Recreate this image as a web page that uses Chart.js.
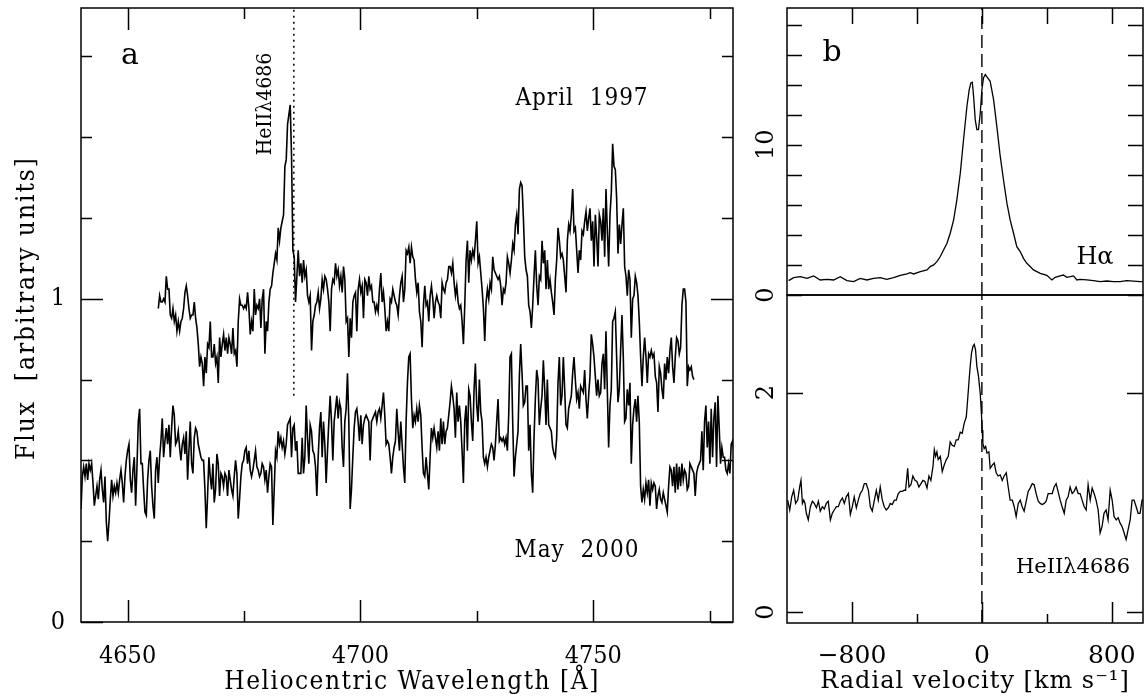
<!DOCTYPE html>
<html><head><meta charset="utf-8">
<script src="https://cdn.jsdelivr.net/npm/chart.js@4/dist/chart.umd.min.js"></script>
<style>
html,body{margin:0;padding:0;background:#fff;}
#wrap{position:relative;width:1146px;height:700px;overflow:hidden;background:#fff;}
canvas{position:absolute;}
</style></head><body>
<div id="wrap">
<canvas id="ca" width="760" height="700" style="left:0px;top:0px;width:760px;height:700px"></canvas>
<canvas id="cb1" width="406" height="320" style="left:740px;top:0px;width:406px;height:320px"></canvas>
<canvas id="cb2" width="406" height="410" style="left:740px;top:290px;width:406px;height:410px"></canvas>
</div>
<script>
// ---------------- DATA ----------------
// Panel a: spectra sampled on a regular wavelength grid (start, step in Angstrom)
const aprilStart = 4656.6;
const mayStart = 4640.0;
const pixStep = 0.2861;
const april1997Flux = [
0.97,1.01,0.99,0.99,1.00,0.99,1.07,1.03,1.03,0.95,
0.94,0.97,0.93,0.95,0.90,0.93,0.90,0.93,0.94,0.97,
1.02,1.04,1.01,0.97,0.94,0.95,0.95,0.99,0.94,0.91,
0.86,0.79,0.82,0.80,0.73,0.82,0.77,0.86,0.85,0.93,
0.82,0.82,0.86,0.80,0.82,0.74,0.88,0.82,0.86,0.89,
0.84,0.88,0.83,0.88,0.86,0.83,0.91,0.83,0.84,0.79,
0.93,1.00,0.98,0.98,0.97,0.98,0.97,1.02,0.97,0.89,
0.93,0.90,1.03,0.95,0.98,0.97,1.00,0.91,1.00,1.03,
0.83,0.93,0.90,0.99,1.03,1.04,1.08,1.11,1.14,1.12,
1.22,1.18,1.22,1.24,1.26,1.41,1.43,1.54,1.57,1.60,
1.44,1.15,1.13,0.99,1.07,1.15,1.07,
1.11,1.05,1.12,1.07,1.09,1.01,0.99,1.01,0.84,0.93,
0.95,0.98,0.99,1.02,0.97,1.00,1.06,1.03,1.07,1.06,
1.03,0.99,0.90,1.03,1.06,1.05,1.11,1.07,1.09,1.04,
1.07,1.02,1.10,1.06,0.93,0.94,0.82,0.94,0.88,0.99,
1.01,1.02,0.90,1.03,1.06,1.02,1.04,0.94,1.06,1.05,
1.01,1.07,1.03,1.04,0.99,0.99,0.96,0.98,0.96,1.03,
1.08,0.99,1.02,0.97,0.90,0.93,0.90,1.00,0.99,1.03,
1.01,0.99,0.98,0.95,1.01,1.05,1.07,0.99,1.03,1.15,
1.14,1.16,1.11,1.16,1.13,1.12,1.06,1.02,1.05,0.96,
0.93,0.85,0.98,1.04,0.98,0.99,0.93,1.01,1.04,1.00,
0.94,0.99,1.01,0.99,0.98,0.94,1.05,1.03,1.02,1.05,
1.06,1.10,1.10,1.08,1.11,1.05,1.01,1.04,0.99,0.97,
0.98,0.93,0.86,0.98,1.12,1.18,1.05,1.15,1.12,1.15,
1.13,1.18,1.24,1.11,1.13,1.08,1.03,0.97,0.87,0.99,
1.03,1.00,1.05,1.03,1.13,1.09,1.08,1.07,1.06,1.07,
1.04,0.98,1.03,1.02,1.05,1.13,1.11,1.08,1.12,1.17,
1.15,1.23,1.26,1.20,
1.34,1.36,1.35,1.25,1.13,1.09,1.07,0.98,0.96,0.91,
0.98,1.07,1.15,1.04,0.98,1.07,1.06,1.18,1.11,1.15,
1.03,1.12,1.03,1.06,1.02,0.99,0.95,1.06,1.12,1.22,
1.18,1.13,1.14,1.12,1.07,1.02,1.18,1.23,1.21,1.26,
1.34,1.21,1.22,1.15,1.08,1.15,1.12,1.21,1.20,1.24,
1.27,1.21,1.25,1.28,1.18,1.24,1.10,1.26,1.19,1.10,
1.26,1.24,1.18,1.28,1.13,1.34,1.21,1.10,1.26,1.33,
1.48,1.41,1.40,1.31,1.14,1.23,1.17,1.23,1.28,1.10,
1.07,1.01,1.09,1.06,0.88,1.00,1.01,1.07,1.05,1.01,
0.93,0.82,0.73,0.82,0.88,0.82,0.74,0.83,0.82,0.84,
0.82,0.83,0.76,0.74,0.65,0.79,0.77,0.72,0.69,0.80,
0.75,0.82,0.77,0.84,0.88,0.79,0.74,0.82,0.88,0.87,
0.83,0.85,0.98,1.03,1.03,0.99,0.73,0.79,0.78,0.79,
0.76,0.75
];
const may2000Flux = [
0.35,0.45,0.48,0.45,0.49,0.44,0.49,0.47,0.49,0.43,
0.36,0.39,0.42,0.38,0.44,0.47,0.41,0.37,0.45,0.31,
0.25,0.31,0.38,0.44,0.39,0.42,0.40,0.43,0.40,0.44,
0.47,0.43,0.37,0.45,0.50,0.53,0.55,0.44,0.40,0.47,
0.51,0.36,0.48,0.62,0.66,0.49,0.49,0.41,0.34,0.33,
0.44,0.50,0.53,0.42,0.36,0.32,0.47,0.51,0.43,0.51,
0.56,0.63,0.51,0.56,0.60,0.55,0.61,0.51,0.60,0.67,
0.64,0.55,0.56,0.59,0.54,0.50,0.55,0.57,0.52,0.59,
0.44,0.53,0.62,0.49,0.46,0.57,0.60,0.59,0.55,0.53,
0.51,0.50,0.50,0.41,0.29,0.39,0.51,0.45,0.41,0.49,
0.37,0.41,0.52,0.49,0.39,0.46,0.45,0.42,0.46,0.45,
0.39,0.47,0.44,0.41,0.39,0.45,0.50,0.46,0.32,0.38,
0.45,0.49,0.50,0.53,0.54,0.49,0.53,0.47,0.45,0.47,
0.50,0.53,0.48,0.47,0.45,0.46,0.49,0.48,0.44,0.47,
0.40,0.45,0.49,0.48,0.30,0.41,0.53,0.51,0.59,0.55,
0.57,0.54,0.56,0.52,0.55,0.61,0.62,0.63,0.51,0.60,
0.61,0.53,0.56,0.46,0.46,
0.46,0.57,0.46,0.51,0.67,0.57,0.49,0.61,0.59,0.53,
0.52,0.48,0.39,0.51,0.60,0.65,0.51,0.62,0.55,0.43,
0.53,0.62,0.70,0.62,0.50,0.62,0.66,0.70,0.63,0.68,
0.66,0.54,0.48,0.62,0.66,0.77,0.62,0.35,0.41,0.51,
0.60,0.65,0.66,0.62,0.56,0.64,0.55,0.61,0.63,0.64,
0.63,0.62,0.50,0.62,0.63,0.64,0.65,0.62,0.65,0.66,
0.63,0.67,0.71,0.64,0.55,0.56,0.55,0.51,0.46,0.51,
0.54,0.56,0.66,0.59,0.53,0.62,0.55,0.48,0.43,0.62,
0.74,0.82,0.83,0.69,0.60,0.64,0.62,0.66,0.62,0.67,
0.64,0.54,0.46,0.45,0.51,0.46,0.41,0.51,0.60,0.57,
0.60,0.57,0.54,0.59,0.53,0.63,0.55,0.62,0.55,0.59,
0.60,0.64,0.68,0.73,0.70,0.66,0.57,0.71,0.62,0.67,
0.62,0.53,0.43,0.62,0.67,0.53,0.72,0.70,0.62,0.56,
0.72,0.80,0.67,0.62,0.75,0.65,0.62,0.51,0.49,0.51,
0.48,0.51,0.53,0.55,0.54,0.50,0.55,0.62,0.69,0.56,
0.57,0.56,0.57,0.55,0.57,0.53,0.64,0.82,0.83,0.62,
0.45,0.51,0.55,0.59,
0.76,0.86,0.77,0.67,0.68,0.73,0.73,0.53,0.61,0.46,
0.40,0.57,0.69,0.78,0.75,0.61,0.66,0.70,0.81,0.72,
0.61,0.75,0.61,0.60,0.59,0.54,0.52,0.51,0.57,0.74,
0.82,0.67,0.70,0.82,0.72,0.61,0.60,0.66,0.68,0.70,
0.77,0.82,0.75,0.69,0.71,0.66,0.73,0.72,0.71,0.78,
0.69,0.63,0.70,0.76,0.89,0.86,0.82,0.76,0.70,0.75,
0.70,0.71,0.80,0.83,0.72,0.90,0.72,0.54,0.67,0.72,
0.93,0.94,0.96,0.82,0.68,0.72,0.84,0.95,0.82,0.62,
0.63,0.72,0.67,0.74,0.49,0.61,0.66,0.69,0.62,0.70,
0.62,0.42,0.37,0.41,0.38,0.43,0.40,0.44,0.36,0.43,
0.41,0.43,0.42,0.35,0.39,0.41,0.38,0.37,0.40,0.38,
0.36,0.34,0.42,0.48,0.47,0.42,0.48,0.40,0.49,0.41,
0.48,0.42,0.49,0.44,0.47,0.46,0.41,0.42,0.49,0.48,
0.47,0.46,0.39,0.46,0.48,0.49,0.50,0.59,0.47,0.62,
0.67,0.54,0.62,0.49,0.66,0.51,0.63,0.68,0.48,0.70,
0.60,0.49,0.54,0.51,0.51,0.47,0.46,0.49,0.46,0.55,
0.56,0.53
];
const heIIRest = 4685.7;        // dotted marker position
const heIIMarkerFrom = 0.70;    // marker lower end (flux units)
const xRangeA = [4640, 4780];
const yRangeA = [0, 1.9];
const xTicksA = [4650, 4700, 4750];
const xMinorA = [4675, 4725, 4775];
const yTicksA = [0, 1];
const yMinorA = [0.25, 0.5, 0.75, 1.25, 1.5, 1.75];

// Panel b
const halphaVel = [-1190,-1159,-1118,-1077,-1036,-995,-954,-913,-872,-831,-790,-749,-708,-667,-626,-585,-544,-502,-461,-441,-420,-379,-338,-318,-297,-277,-256,-236,-215,-195,-174,-154,-133,-113,-92,-78,-68,-59,-51,-41,-31,-21,-10,0,10,21,31,51,72,92,113,133,154,174,195,215,236,256,277,318,359,400,431,451,482,502,523,544,564,585,605,646,687,728,769,810,851,892,933,974,995];
const halphaFlux = [0.96,1.16,1.22,1.11,1.27,1.00,1.04,1.00,1.22,0.96,0.89,1.11,1.00,1.11,1.16,1.04,1.16,1.31,1.40,1.49,1.40,1.56,1.67,1.89,2.00,2.22,2.56,3.00,3.44,4.11,5.00,6.33,8.11,10.33,12.56,13.67,14.11,14.16,13.22,11.67,11.00,11.00,12.11,13.67,14.44,14.67,14.51,14.22,13.00,11.22,9.22,7.67,6.11,5.00,4.11,3.22,2.89,2.44,2.11,1.67,1.44,1.31,1.00,1.18,1.27,1.33,1.18,1.22,1.27,1.00,1.04,1.00,0.96,0.89,0.93,0.89,0.89,0.96,0.93,0.89,0.89];
const heIIVel = [-1196,-1183,-1171,-1159,-1147,-1134,-1122,-1114,-1105,-1097,-1089,-1081,-1069,-1056,-1044,-1032,-1019,-1007,-995,-982,-970,-958,-946,-933,-921,-909,-896,-884,-872,-859,-847,-835,-822,-810,-798,-786,-773,-761,-749,-736,-724,-712,-699,-687,-675,-662,-650,-638,-626,-613,-601,-589,-576,-564,-552,-539,-527,-515,-502,-490,-478,-470,-457,-449,-437,-425,-412,-400,-388,-375,-363,-351,-338,-326,-314,-301,-293,-285,-277,-269,-256,-244,-232,-219,-207,-195,-183,-170,-158,-146,-133,-121,-109,-96,-88,-80,-72,-64,-55,-47,-39,-31,-21,-10,-4,2,6,14,23,31,43,51,64,76,88,100,113,125,137,150,162,174,187,199,211,224,236,248,260,273,285,297,310,322,334,347,359,371,384,396,408,420,433,445,457,469,482,494,507,519,531,543,556,568,580,593,605,617,630,642,654,667,679,691,703,716,728,740,752,765,777,790,802,814,827,839,851,863,876,888,900,913,925,937,950,962,974,986,995];
const heIIFlux = [1.02,0.93,1.05,1.11,0.99,1.02,1.14,1.20,0.99,1.02,0.99,0.90,0.84,0.96,1.01,0.99,0.95,1.01,0.92,0.96,0.94,0.99,1.01,0.84,0.90,0.93,0.96,0.96,1.01,1.04,0.99,1.05,1.08,0.89,0.96,1.05,0.95,1.02,1.08,1.11,1.17,1.17,1.11,0.96,0.92,1.02,1.11,1.02,1.14,1.02,0.96,0.93,0.95,0.99,0.98,1.02,1.02,1.08,1.10,1.10,1.11,1.11,1.31,1.14,1.16,1.24,1.20,1.19,1.14,1.17,1.20,1.19,1.13,1.24,1.20,1.33,1.48,1.42,1.46,1.39,1.42,1.28,1.34,1.39,1.42,1.55,1.52,1.51,1.57,1.57,1.64,1.63,1.72,1.78,1.93,2.09,2.24,2.36,2.42,2.44,2.39,2.24,2.15,1.99,1.84,1.66,1.54,1.49,1.51,1.45,1.46,1.31,1.34,1.36,1.27,1.24,1.25,1.20,1.24,1.27,1.14,1.02,1.02,0.96,0.87,0.99,1.02,0.96,0.92,1.01,1.10,1.13,1.17,1.16,1.08,1.01,0.99,0.98,0.99,1.01,1.08,1.08,1.08,1.14,1.17,1.10,1.02,0.96,0.90,1.02,1.05,1.14,1.08,1.10,1.14,1.08,1.08,1.02,0.96,0.93,1.16,1.02,1.13,1.08,1.02,0.93,0.72,0.78,0.90,0.93,0.84,1.11,1.02,0.87,0.84,0.86,0.81,0.78,0.72,0.66,0.75,0.84,1.02,1.02,0.96,0.90,0.90,1.02,1.02];
const xRangeB = [-1200, 992];
const yRangeBTop = [0, 19.1];
const yRangeBBot = [-0.1, 2.89];
const xTicksB = [-800, 0, 800];
const xMinorB = [-400, 400];
const yTicksBTop = [0, 10];
const yMinorBTop = [2, 4, 6, 8, 12, 14, 16, 18];
const yTicksBBot = [0, 2];

// ---------------- STYLE ----------------
const FA = "'DejaVu Serif Condensed','DejaVu Serif',serif";
const FB = "'DejaVu Serif',serif";
const INK = '#000';

const pts = (xs, ys) => ys.map((y, i) => ({x: xs[i], y}));
const grid = (start, n) => Array.from({length: n}, (_, i) => +(start + i * pixStep).toFixed(3));

// frame + inward ticks (PGPLOT style), positioned via the chart scales
const pgBox = {
  id: 'pgBox',
  afterDatasetsDraw(chart, args, o) {
    const {ctx, chartArea: a} = chart;
    const xs = chart.scales.x, ys = chart.scales.y;
    ctx.save();
    ctx.strokeStyle = INK; ctx.lineWidth = o.lw || 1.5; ctx.lineCap = 'butt';
    ctx.strokeRect(a.left, a.top, a.right - a.left, a.bottom - a.top);
    ctx.beginPath();
    const xt = (vals, len) => vals.forEach(v => {
      const p = Math.round(xs.getPixelForValue(v)) + 0.5;
      if (o.xSides.includes('bottom')) { ctx.moveTo(p, a.bottom); ctx.lineTo(p, a.bottom - len); }
      if (o.xSides.includes('top')) { ctx.moveTo(p, a.top); ctx.lineTo(p, a.top + len); }
    });
    const yt = (vals, len) => vals.forEach(v => {
      const p = Math.round(ys.getPixelForValue(v)) + 0.5;
      if (o.ySides.includes('left')) { ctx.moveTo(a.left, p); ctx.lineTo(a.left + len, p); }
      if (o.ySides.includes('right')) { ctx.moveTo(a.right, p); ctx.lineTo(a.right - len, p); }
    });
    xt(o.xMajor || [], o.xLen[0]); xt(o.xMinor || [], o.xLen[1]);
    yt(o.yMajor || [], o.yLen[0]); yt(o.yMinor || [], o.yLen[1]);
    ctx.stroke();
    ctx.restore();
  }
};
// free text (labels, titles) + optional rotated y tick labels
const pgText = {
  id: 'pgText',
  afterDraw(chart, args, o) {
    const ctx = chart.ctx;
    const draw = (t) => {
      ctx.save();
      ctx.font = t.font; ctx.fillStyle = INK;
      if ('letterSpacing' in ctx) ctx.letterSpacing = t.ls || '0px';
      ctx.textAlign = t.align || 'center'; ctx.textBaseline = 'middle';
      ctx.translate(t.x, t.y);
      if (t.rot) ctx.rotate(t.rot);
      ctx.fillText(t.text, 0, 0);
      ctx.restore();
    };
    (o.items || []).forEach(draw);
    if (o.yLabels) {
      const ys = chart.scales.y;
      o.yLabels.values.forEach(v => draw({text: String(v), x: o.yLabels.x, y: ys.getPixelForValue(v), font: o.yLabels.font, rot: -Math.PI / 2}));
    }
  }
};
Chart.register(pgBox, pgText);

const lineDS = (data, w, extra) => Object.assign({data, borderColor: INK, borderWidth: w, pointRadius: 0, showLine: true, fill: false, tension: 0}, extra || {});
const common = {responsive: false, animation: false, devicePixelRatio: 1, events: [],
  plugins: {legend: {display: false}, tooltip: {enabled: false}}};
const fixX = h => s => { s.height = h; s.paddingLeft = 0; s.paddingRight = 0; };
const fixY = w => s => { s.width = w; s.paddingTop = 0; s.paddingBottom = 0; };

// ---------------- PANEL A ----------------
new Chart(document.getElementById('ca'), {
  type: 'scatter',
  data: {datasets: [
    lineDS(pts(grid(aprilStart, april1997Flux.length), april1997Flux), 1.6),
    lineDS(pts(grid(mayStart, may2000Flux.length), may2000Flux), 1.6),
    lineDS([{x: heIIRest, y: heIIMarkerFrom}, {x: heIIRest, y: yRangeA[1]}], 1.5, {borderDash: [2, 4]})
  ]},
  options: Object.assign({}, common, {
    layout: {padding: {left: 0, top: 8, right: 27, bottom: 0}},
    scales: {
      x: {type: 'linear', min: xRangeA[0], max: xRangeA[1],
        afterBuildTicks: s => { s.ticks = xTicksA.map(v => ({value: v})); },
        afterFit: fixX(78),
        grid: {display: false}, border: {display: false},
        ticks: {color: INK, font: {family: FA, size: 25}, padding: 11, maxRotation: 0, autoSkip: false, callback: v => String(v)}},
      y: {type: 'linear', min: yRangeA[0], max: yRangeA[1],
        afterBuildTicks: s => { s.ticks = yTicksA.map(v => ({value: v})); },
        afterFit: fixY(81),
        grid: {display: false}, border: {display: false},
        ticks: {color: INK, font: {family: FA, size: 25}, padding: 8, callback: v => String(v)}}
    },
    plugins: Object.assign({}, common.plugins, {
      pgBox: {xMajor: xTicksA, xMinor: xMinorA, yMajor: yTicksA, yMinor: yMinorA,
        xLen: [22, 11], yLen: [22, 11], xSides: ['bottom', 'top'], ySides: ['left', 'right'], lw: 1.5},
      pgText: {items: [
        {text: 'a', x: 130, y: 56, font: `30px ${FB}`},
        {text: 'April  1997', x: 582, y: 99, font: `24px ${FA}`, ls: '1px'},
        {text: 'May  2000', x: 577, y: 551, font: `24px ${FA}`, ls: '1px'},
        {text: 'HeIIλ4686', x: 266, y: 104, font: `21px ${FA}`, rot: -Math.PI / 2},
        {text: 'Flux  [arbitrary units]', x: 27, y: 308, font: `26px ${FA}`, ls: '2px', rot: -Math.PI / 2},
        {text: 'Heliocentric Wavelength [Å]', x: 412, y: 682, font: `26px ${FA}`, ls: '1.5px'}
      ]}
    })
  })
});

// ---------------- PANEL B (top: H-alpha) ----------------
new Chart(document.getElementById('cb1'), {
  type: 'scatter',
  data: {datasets: [
    lineDS(pts(halphaVel, halphaFlux), 1.3),
    lineDS([{x: 0, y: yRangeBTop[0]}, {x: 0, y: yRangeBTop[1]}], 1.4, {borderDash: [13, 6]})
  ]},
  options: Object.assign({}, common, {
    layout: {padding: {left: 0, top: 8, right: 3, bottom: 25}},
    scales: {
      x: {type: 'linear', display: false, min: xRangeB[0], max: xRangeB[1]},
      y: {type: 'linear', min: yRangeBTop[0], max: yRangeBTop[1],
        afterFit: fixY(47),
        grid: {display: false}, border: {display: false}, ticks: {display: false}}
    },
    plugins: Object.assign({}, common.plugins, {
      pgBox: {xMajor: xTicksB, xMinor: xMinorB, yMajor: yTicksBTop, yMinor: yMinorBTop,
        xLen: [16, 16], yLen: [15, 15], xSides: ['top'], ySides: ['left', 'right'], lw: 1.5},
      pgText: {items: [
        {text: 'b', x: 92, y: 53, font: `30px ${FB}`},
        {text: 'Hα', x: 355, y: 258, font: `24px ${FB}`}
      ], yLabels: {values: yTicksBTop, x: 27, font: `24px ${FB}`}}
    })
  })
});

// ---------------- PANEL B (bottom: HeII 4686) ----------------
new Chart(document.getElementById('cb2'), {
  type: 'scatter',
  data: {datasets: [
    lineDS(pts(heIIVel, heIIFlux), 1.3),
    lineDS([{x: 0, y: yRangeBBot[0]}, {x: 0, y: yRangeBBot[1]}], 1.4, {borderDash: [13, 6]})
  ]},
  options: Object.assign({}, common, {
    layout: {padding: {left: 0, top: 5, right: 3, bottom: 0}},
    scales: {
      x: {type: 'linear', min: xRangeB[0], max: xRangeB[1],
        afterBuildTicks: s => { s.ticks = xTicksB.map(v => ({value: v})); },
        afterFit: fixX(77),
        grid: {display: false}, border: {display: false},
        ticks: {color: INK, font: {family: FB, size: 25}, padding: 10, maxRotation: 0, autoSkip: false,
          callback: v => (v < 0 ? '\u2212' + Math.abs(v) : String(v))}},
      y: {type: 'linear', min: yRangeBBot[0], max: yRangeBBot[1],
        afterFit: fixY(47),
        grid: {display: false}, border: {display: false}, ticks: {display: false}}
    },
    plugins: Object.assign({}, common.plugins, {
      pgBox: {xMajor: xTicksB, xMinor: xMinorB, yMajor: yTicksBBot, yMinor: [],
        xLen: [21, 9], yLen: [16, 16], xSides: ['bottom'], ySides: ['left', 'right'], lw: 1.5},
      pgText: {items: [
        {text: 'HeIIλ4686', x: 333, y: 278, font: `21px ${FB}`},
        {text: 'Radial velocity [km s\u207B\u00B9]', x: 235, y: 392, font: `24px ${FB}`, ls: '1px'}
      ], yLabels: {values: yTicksBBot, x: 27, font: `24px ${FB}`}}
    })
  })
});
</script>
</body></html>
